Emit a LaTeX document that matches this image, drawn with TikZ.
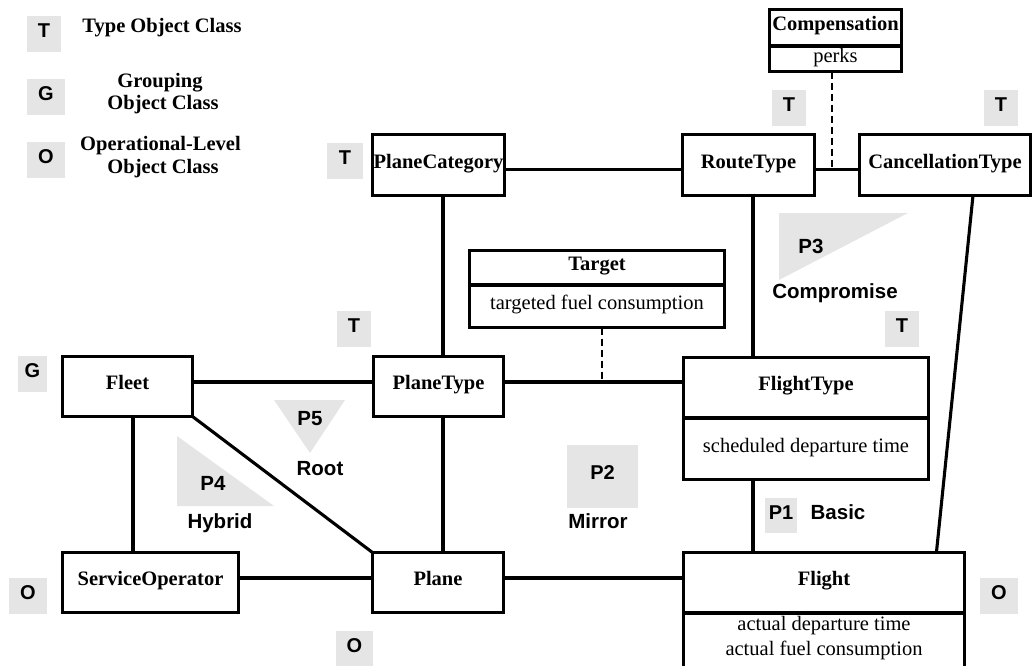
\documentclass[tikz,border=0pt]{standalone}
\usepackage{fontspec}
\setmainfont{Liberation Serif}
\setsansfont{Liberation Sans}
\newcommand\diagsize{\fontsize{20.5}{24.5}\selectfont}
\newcommand\badgesize{\fontsize{20}{23}\selectfont}
\begin{document}
\begin{tikzpicture}[x=1pt,y=-1pt,
  every node/.style={inner sep=0pt, outer sep=0pt},
  cls/.style={draw, line width=3.1pt, font=\diagsize\bfseries, text height=0.66em, text depth=0pt},
  attr/.style={draw, line width=3.1pt, font=\diagsize, text height=0.66em, text depth=0pt},
  attrline/.style={font=\diagsize, text height=0.66em, text depth=0pt},
  conn/.style={line width=3.1pt},
  dep/.style={line width=2.7pt, dash pattern=on 7pt off 4pt},
  badge/.style={fill=black!10, font=\badgesize\sffamily\bfseries, text height=0.72em, text depth=0pt, minimum height=36pt},
  plbl/.style={font=\diagsize\sffamily\bfseries, text height=0.72em, text depth=0pt},
  legend/.style={font=\diagsize\bfseries, text height=0.66em, text depth=0pt},
  pshape/.style={fill=black!10}]
\useasboundingbox (0,0) rectangle (1036,666);

% ---------- legend ----------
\node[badge, minimum width=34pt] (lgT) at (44,34) {T};
\node[legend] (lgTtxt) at (162,29) {Type Object Class};
\node[badge, minimum width=38pt] (lgG) at (46,97) {G};
\node[legend] (lgGtxt1) at (160,84.5) {Grouping};
\node[legend] (lgGtxt2) at (163,106.5) {Object Class};
\node[badge, minimum width=38pt] (lgO) at (46,160) {O};
\node[legend] (lgOtxt1) at (160.5,147) {Operational-Level};
\node[legend] (lgOtxt2) at (163,170) {Object Class};

% ---------- pattern triangles ----------
\fill[pshape] (177,436) -- (177,506) -- (274,506) -- cycle;
\fill[pshape] (274,400) -- (345,400) -- (310,453) -- cycle;
\fill[pshape] (779,213) -- (908,213) -- (779,280) -- cycle;

% ---------- classes ----------
\node[cls, minimum width=131.9pt, minimum height=36.7pt] (compT) at (835.5,27.65) {Compensation};
\node[attr, minimum width=131.9pt, minimum height=25.7pt] (compA) at (835.5,58.85) {perks};

\node[cls, minimum width=131.9pt, minimum height=60.9pt] (pc) at (438.5,165) {PlaneCategory};
\node[cls, minimum width=131.9pt, minimum height=60.9pt] (rt) at (748.5,165) {RouteType};
\node[cls, minimum width=170.9pt, minimum height=60.9pt] (ct) at (945,165) {CancellationType};

\node[cls, minimum width=254.9pt, minimum height=34.7pt] (tgT) at (597,267.65) {Target};
\node[attr, minimum width=254.9pt, minimum height=42.7pt] (tgA) at (597,306.35) {targeted fuel consumption};

\node[cls, minimum width=129.9pt, minimum height=59.9pt] (fleet) at (127.5,386.5) {Fleet};
\node[cls, minimum width=129.9pt, minimum height=59.9pt] (pt) at (438.5,386.5) {PlaneType};
\node[cls, minimum width=244.9pt, minimum height=60.7pt] (ftT) at (806,387.65) {FlightType};
\node[attr, minimum width=244.9pt, minimum height=61.7pt] (ftA) at (806,448.85) {scheduled departure time};

\node[cls, minimum width=175.9pt, minimum height=59.9pt] (so) at (150.5,582.5) {ServiceOperator};
\node[cls, minimum width=130.9pt, minimum height=59.9pt] (pl) at (438,582.5) {Plane};
\node[cls, minimum width=280.9pt, minimum height=60.7pt] (flT) at (824,582.65) {Flight};
\node[draw, line width=3.1pt, minimum width=280.9pt, minimum height=55pt] (flA) at (824,640.5) {};
\node[attrline] (flA1) at (824,627) {actual departure time};
\node[attrline] (flA2) at (824,652) {actual fuel consumption};

% ---------- class badges ----------
\node[badge, minimum width=36pt] (bPC) at (345,161) {T};
\node[badge, minimum width=34pt] (bRT) at (789,108) {T};
\node[badge, minimum width=34pt] (bCT) at (1001,108) {T};
\node[badge, minimum width=34pt] (bPT) at (354,329) {T};
\node[badge, minimum width=34pt] (bFT) at (902,329) {T};
\node[badge, minimum width=29pt] (bFleet) at (32.5,374) {G};
\node[badge, minimum width=38pt] (bSO) at (28,595.5) {O};
\node[badge, minimum width=37pt, minimum height=35pt] (bPl) at (354.5,648.5) {O};
\node[badge, minimum width=38pt] (bFl) at (999,596) {O};

% ---------- pattern labels ----------
\node[badge, minimum width=32pt, minimum height=35pt] (bP1) at (781,515.5) {P1};
\node[plbl] (lBasic) at (838,516) {Basic};
\node[badge, minimum width=71pt, minimum height=63pt] (bP2) at (602.5,476) {P2};
\node[plbl] (lMirror) at (598,525) {Mirror};
\node[plbl] (lP3) at (811,250) {P3};
\node[plbl] (lComp) at (835,295) {Compromise};
\node[plbl] (lP4) at (213,487) {P4};
\node[plbl] (lHybrid) at (220,525) {Hybrid};
\node[plbl] (lP5) at (310,422) {P5};
\node[plbl] (lRoot) at (320,471.5) {Root};

% ---------- associations ----------
\coordinate (toprow) at ([yshift=-4.5pt]rt.east);
\draw[conn] ([yshift=-4.5pt]pc.east) -- ([yshift=-4.5pt]rt.west);
\draw[conn] (toprow) -- (toprow -| ct.west);

\coordinate (midrow) at ([yshift=4.5pt]pt.east);
\draw[conn] ([yshift=4.5pt]fleet.east) -- ([yshift=4.5pt]pt.west);
\draw[conn] (midrow) -- (midrow -| ftT.west);

\coordinate (lowrow) at ([yshift=4.5pt]pl.east);
\draw[conn] ([yshift=4.5pt]so.east) -- ([yshift=4.5pt]pl.west);
\draw[conn] (lowrow) -- (lowrow -| flT.west);

\coordinate (pccol) at ([xshift=4.5pt]pc.south);
\draw[conn] (pccol) -- (pccol |- pt.north);
\coordinate (ptcol) at ([xshift=4.5pt]pt.south);
\draw[conn] (ptcol) -- (ptcol |- pl.north);
\coordinate (fleetcol) at ([xshift=5.5pt]fleet.south);
\draw[conn] (fleetcol) -- (fleetcol |- so.north);
\coordinate (rtcol) at ([xshift=4.5pt]rt.south);
\draw[conn] (rtcol) -- (rtcol |- ftT.north);
\draw[conn] (ftA.south -| rtcol) -- (flT.north -| rtcol);
\draw[conn] ([xshift=28pt]ct.south) -- ([xshift=-28pt]flT.north east);
\draw[conn] (fleet.south east) -- (pl.north west);

% ---------- association classes ----------
\coordinate (compcol) at ([xshift=-3.5pt]compA.south);
\draw[dep] (compcol) -- (compcol |- toprow);
\coordinate (tgcol) at ([xshift=5pt]tgA.south);
\draw[dep] (tgcol) -- (tgcol |- midrow);
\end{tikzpicture}
\end{document}
